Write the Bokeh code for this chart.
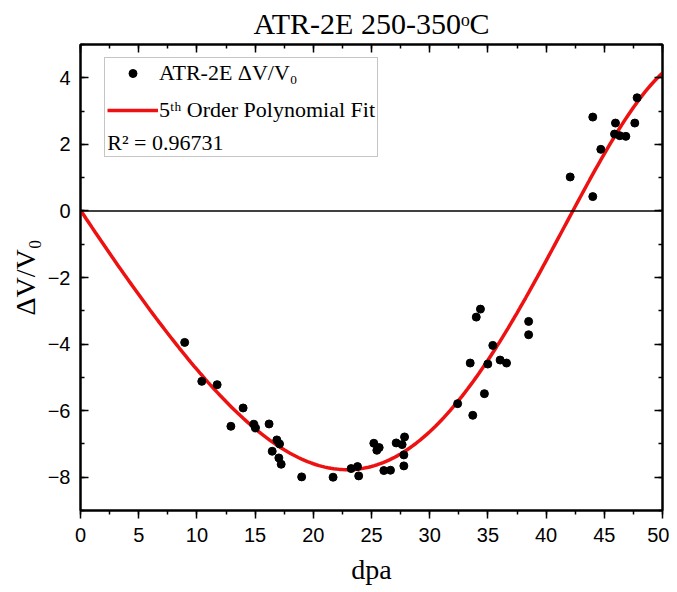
import numpy as np
from bokeh.plotting import figure
from bokeh.models import (Range1d, LinearAxis, SingleIntervalTicker, Span, Legend,
                          LegendItem, Label)
from bokeh.embed import file_html
from bokeh.resources import INLINE

# ---- data ----
dpa = [8.95, 10.42, 11.74, 12.92, 13.97, 14.89, 15.03, 16.2, 16.47, 16.87, 17.1, 17.04,
       17.24, 19.0, 21.7, 23.25, 23.8, 23.9, 25.2, 25.46, 25.66, 26.06, 26.63, 27.12,
       27.63, 27.84, 27.78, 27.78, 32.4, 33.48, 33.7, 34.0, 34.36, 34.7, 34.99, 35.42,
       36.05, 36.6, 38.5, 38.5, 42.07, 44.01, 44.01, 44.7, 45.88, 45.96, 46.33, 46.85,
       47.62, 47.82]
dvv = [-3.95, -5.12, -5.22, -6.47, -5.92, -6.41, -6.52, -6.4, -7.22, -6.88, -7.0, -7.42,
       -7.61, -7.99, -8.0, -7.74, -7.68, -7.96, -6.98, -7.19, -7.11, -7.8, -7.79, -6.97,
       -7.02, -6.79, -7.33, -7.66, -5.79, -4.57, -6.14, -3.19, -2.95, -5.49, -4.6, -4.04,
       -4.48, -4.57, -3.32, -3.72, 1.02, 0.43, 2.82, 1.85, 2.31, 2.64, 2.26, 2.24,
       2.64, 3.40]

# points of the red fit curve
fit_dpa = [0, 2.5, 5, 7.5, 10, 12.5, 15, 17.5, 20, 22.5, 25, 27.5, 30, 32.5, 35, 37.5,
           40, 42.5, 45, 47.5, 50]
fit_dvv = [0, -1.25, -2.48, -3.67, -4.82, -5.75, -6.5, -7.2, -7.62, -7.78, -7.6, -7.25,
           -6.62, -5.75, -4.6, -3.05, -1.43, 0.16, 1.75, 3.02, 4.17]
fit_order = 5

title_text = "ATR-2E 250-350ᵒC"
x_label = "dpa"
y_label = "ΔV/V₀"
legend_labels = ["ATR-2E ΔV/V₀", "5ᵗʰ Order Polynomial Fit"]
r2_text = "R² = 0.96731"

SERIF = "Liberation Serif"
SANS = "Liberation Sans"

# smooth 5th-order polynomial through the read curve points
coef = np.polyfit(fit_dpa, fit_dvv, fit_order)
curve_x = np.linspace(min(fit_dpa), max(fit_dpa), 201)
curve_y = np.polyval(coef, curve_x)

p = figure(width=669, height=592, x_range=Range1d(0, 50), y_range=Range1d(-9, 5),
           output_backend="svg", toolbar_location=None,
           min_border_left=80, min_border_right=7, min_border_top=42, min_border_bottom=82)

p.title.text = title_text
p.title.text_font = SERIF
p.title.text_font_size = "30px"
p.title.text_font_style = "normal"
p.title.text_color = "black"
p.title.align = "center"
p.title.standoff = 9
p.title.offset = 0

p.grid.visible = False
p.outline_line_color = "black"
p.outline_line_width = 2
p.background_fill_color = "white"
p.border_fill_color = "white"

xt = SingleIntervalTicker(interval=5, num_minor_ticks=2)
yt = SingleIntervalTicker(interval=2, num_minor_ticks=2)

xa = p.xaxis[0]
xa.ticker = xt
xa.axis_label = x_label
xa.axis_label_text_font = SERIF
xa.axis_label_text_font_size = "28px"
xa.axis_label_text_font_style = "normal"
xa.axis_label_text_color = "black"
xa.axis_label_standoff = 9
xa.major_label_text_font = SANS
xa.major_label_text_font_size = "20px"
xa.major_label_text_color = "black"
xa.major_label_standoff = 9
xa.major_tick_out = 8
xa.major_tick_in = 0
xa.minor_tick_out = 4
xa.minor_tick_in = 0
xa.axis_line_width = 2
xa.major_tick_line_width = 1.5
xa.minor_tick_line_width = 1.5

ya = p.yaxis[0]
ya.ticker = yt
ya.axis_label = y_label
ya.axis_label_text_font = SERIF
ya.axis_label_text_font_size = "28px"
ya.axis_label_text_font_style = "normal"
ya.axis_label_text_color = "black"
ya.axis_label_standoff = 4
ya.major_label_text_font = SANS
ya.major_label_text_font_size = "20px"
ya.major_label_text_color = "black"
ya.major_label_standoff = 10
ya.major_tick_out = 0
ya.major_tick_in = 8
ya.minor_tick_out = 0
ya.minor_tick_in = 4
ya.axis_line_width = 2
ya.major_tick_line_width = 1.5
ya.minor_tick_line_width = 1.5

# mirror axes (ticks only, no labels drawn)
top = LinearAxis(ticker=SingleIntervalTicker(interval=5, num_minor_ticks=2),
                 major_label_text_font_size="0px", major_label_standoff=0,
                 major_label_text_color=None, major_label_text_alpha=0,
                 major_tick_out=0, major_tick_in=8, minor_tick_out=0, minor_tick_in=4,
                 axis_line_width=2, major_tick_line_width=1.5, minor_tick_line_width=1.5)
right = LinearAxis(ticker=SingleIntervalTicker(interval=2, num_minor_ticks=2),
                   major_label_text_font_size="0px", major_label_standoff=0,
                   major_label_text_color=None, major_label_text_alpha=0,
                   major_tick_out=0, major_tick_in=8, minor_tick_out=0, minor_tick_in=4,
                   axis_line_width=2, major_tick_line_width=1.5, minor_tick_line_width=1.5)
p.add_layout(top, "above")
p.add_layout(right, "right")

zero = Span(location=0, dimension="width", line_color="black", line_width=1.5)
p.add_layout(zero)

ln = p.line(curve_x, curve_y, line_color="#ee1111", line_width=3.5)
sc = p.scatter(dpa, dvv, size=8, fill_color="black", line_color="black")
dummy = p.scatter([], [], size=1, alpha=0)

legend = Legend(items=[LegendItem(label=legend_labels[0], renderers=[sc]),
                       LegendItem(label=legend_labels[1], renderers=[ln]),
                       LegendItem(label=" ", renderers=[dummy])],
                location=(24, 353), orientation="vertical",
                glyph_width=51, glyph_height=20, label_standoff=1,
                label_text_font=SERIF, label_text_font_size="22px",
                label_text_color="black",
                padding=2, spacing=11, margin=0,
                border_line_color="#8c8c8c", border_line_width=1,
                background_fill_alpha=0)
p.add_layout(legend, "center")

r2 = Label(x=2.3, y=2.07, text=r2_text, text_font=SERIF, text_font_size="22px",
           text_baseline="middle", text_align="left", text_color="black")
p.add_layout(r2)

open("out.html", "w").write(file_html(p, INLINE))
